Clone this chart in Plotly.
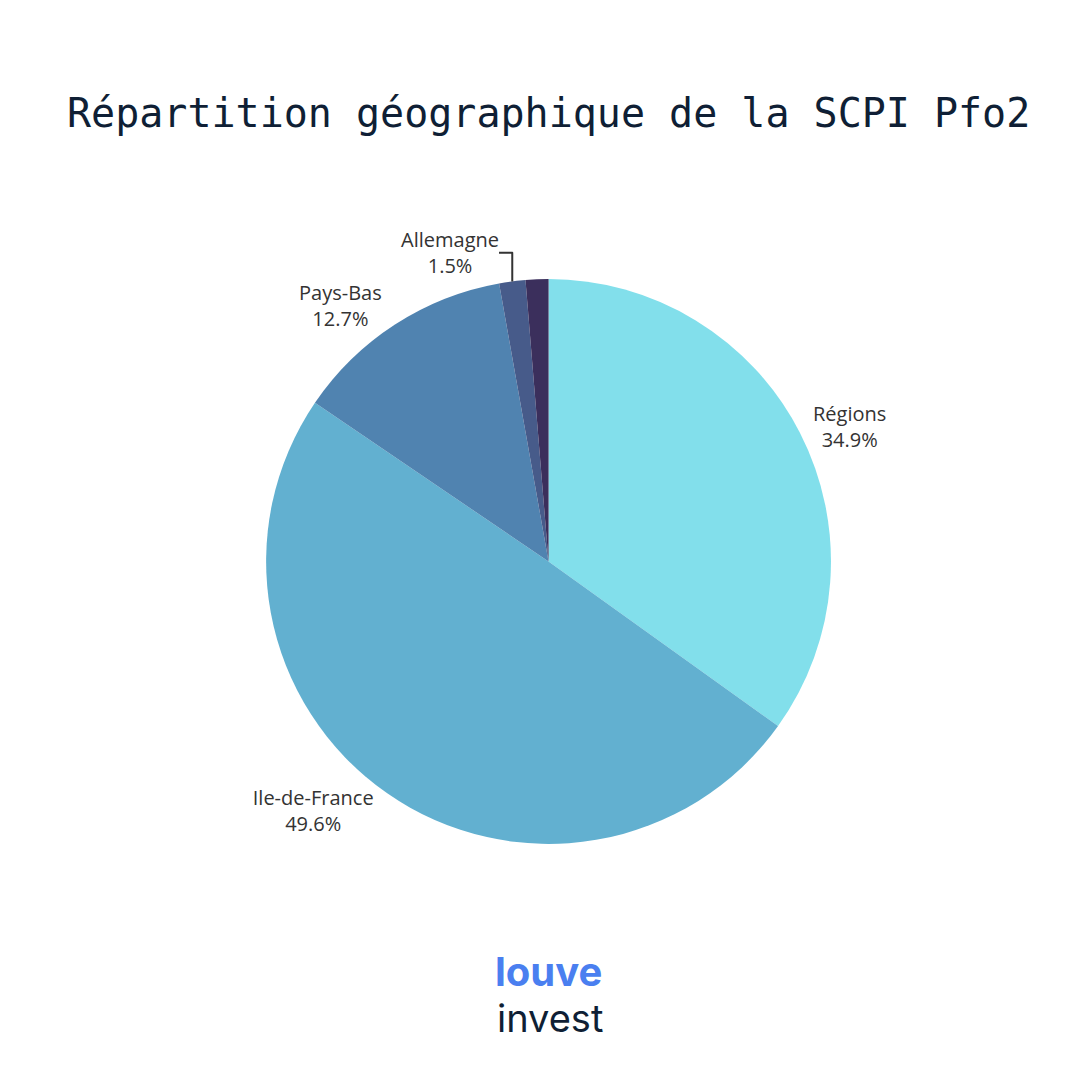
import plotly.graph_objects as go

labels = ["Régions", "Ile-de-France", "Pays-Bas", "Allemagne", "Autre"]
values = [34.9, 49.6, 12.7, 1.5, 1.3]
colors = ["#82dfeb", "#62b0d0", "#5083b0", "#475b8a", "#3b2f5c"]
templates = ["%{label}<br>%{value}%", "%{label}<br>%{value}%", "%{label}<br>%{value}%", "%{label}<br>%{value}%", ""]

fig = go.Figure(go.Pie(
    labels=labels, values=values, sort=False, direction="clockwise", rotation=0,
    marker=dict(colors=colors, line=dict(width=0)),
    texttemplate=templates, textposition="outside", showlegend=False,
    textfont=dict(family="Open Sans", size=20, color="#333333"),
    domain=dict(x=[0.239, 0.762], y=[0.226, 0.749]),
    hoverinfo="label+percent",
))
fig.update_layout(
    width=1080, height=1080, paper_bgcolor="white", plot_bgcolor="white",
    margin=dict(l=0, r=0, t=0, b=0),
    annotations=[
        dict(text="Répartition géographique de la SCPI Pfo2", x=0.5, y=0.926, xref="paper", yref="paper",
             showarrow=False, font=dict(family="DejaVu Sans Mono", size=40, color="#0f1f35")),
        dict(text="<b>louve</b>", x=0.5, y=0.083, xref="paper", yref="paper", showarrow=False,
             font=dict(family="Inter", size=40, color="#4a7ff0")),
        dict(text="invest", x=0.502, y=0.042, xref="paper", yref="paper", showarrow=False,
             font=dict(family="Inter", size=38, color="#0f1f35")),
    ],
)
fig.write_html("out.html")
